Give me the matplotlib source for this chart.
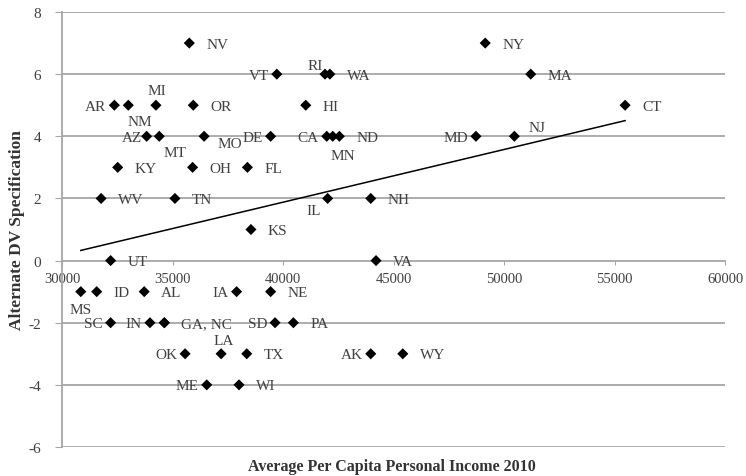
import numpy as np
import matplotlib
matplotlib.use("Agg")
import matplotlib.pyplot as plt


# Data
states = ["NV", "NY",
          "VT", "RI", "WA", "MA",
          "AR", "NM", "MI", "OR", "HI", "CT",
          "AZ", "MT", "MO", "DE", "CA", "MN", "ND", "MD", "NJ",
          "KY", "OH", "FL",
          "WV", "TN", "IL", "NH",
          "KS",
          "UT", "VA",
          "MS", "ID", "AL", "IA", "NE",
          "SC", "IN", "GA", "NC", "SD", "PA",
          "OK", "LA", "TX", "AK", "WY",
          "ME", "WI"]
income = [35760, 49150,
          39720, 41900, 42120, 51210,
          32370, 33000, 34250, 35940, 41030, 55480,
          33830, 34400, 36430, 39440, 41980, 42250, 42550, 48730, 50470,
          32520, 35910, 38390,
          31770, 35110, 42020, 43970,
          38550,
          32200, 44210,
          30850, 31570, 33720, 37900, 39440,
          32200, 33980, 34630, 34630, 39640, 40470,
          35570, 37200, 38360, 43970, 45420,
          36550, 38010]
dv = [7, 7,
      6, 6, 6, 6,
      5, 5, 5, 5, 5, 5,
      4, 4, 4, 4, 4, 4, 4, 4, 4,
      3, 3, 3,
      2, 2, 2, 2,
      1,
      0, 0,
      -1, -1, -1, -1, -1,
      -2, -2, -2, -2, -2, -2,
      -3, -3, -3, -3, -3,
      -4, -4]

x_ticks = [30000, 35000, 40000, 45000, 50000, 55000, 60000]
y_ticks = [-6, -4, -2, 0, 2, 4, 6, 8]

# label placement: (dx px, dy px, ha)
place = {"r": (17, 0, "left"), "l": (-8, 0, "right")}
left_labels = ["VT", "AR", "AZ", "DE", "CA", "MD", "SC", "IN", "SD",
               "IA", "OK", "AK", "ME"]
special = {
    "RI": (-10, 10, "center"),
    "NM": (12, -15, "center"),
    "MT": (16, -15, "center"),
    "MN": (10, -18, "center"),
    "IL": (-14, -11, "center"),
    "MO": (13, -6, "left"),
    "NJ": (23, 10, "center"),
    "LA": (3, 14, "center"),
    "MI": (1, 16, "center"),
    "MS": (0, -17, "center"),
    "AZ": (-5, 0, "right"),
}
label_text = {"GA": "GA, NC", "NC": ""}

plt.rcParams["font.family"] = ["Liberation Serif", "DejaVu Serif"]
plt.rcParams["axes.unicode_minus"] = False

fig = plt.figure(figsize=(7.46, 4.77), dpi=100)
ax = fig.add_axes([62 / 746, 1 - 448 / 477, (725 - 62) / 746, (448 - 13) / 477])

grid_c = "#a6a6a6"
text_c = "#404040"

ax.scatter(income, dv, marker="D", s=32, color="black", zorder=3,
           edgecolors="none")

# linear trend line over the data range
slope, icpt = np.polyfit(income, dv, 1)
xs = np.array([min(income), max(income)])
ax.plot(xs, slope * xs + icpt, color="black", lw=1.1, zorder=2)

for st, x, y in zip(states, income, dv):
    txt = label_text.get(st, st)
    if not txt:
        continue
    if st in special:
        dx, dy, ha = special[st]
    elif st in left_labels:
        dx, dy, ha = place["l"]
    else:
        dx, dy, ha = place["r"]
    ax.annotate(txt, (x, y), xytext=(dx, dy - 1), textcoords="offset pixels",
                ha=ha, va="center", fontsize=11, color=text_c, zorder=4)

ax.set_xlim(30000, 60000)
ax.set_ylim(-6, 8)
ax.set_xticks(x_ticks)
ax.set_yticks(y_ticks)

for y in y_ticks:
    if y != 0:
        ax.axhline(y, color=grid_c, lw=1.3, zorder=1)

for side in ["top", "right"]:
    ax.spines[side].set_visible(False)
ax.spines["bottom"].set_position(("data", 0))
ax.spines["bottom"].set_color(grid_c)
ax.spines["bottom"].set_linewidth(1.3)
ax.spines["left"].set_color(grid_c)
ax.spines["left"].set_linewidth(1.3)

ax.tick_params(axis="x", direction="out", length=3, color=grid_c,
               labelsize=10.5, labelcolor=text_c, pad=5)
ax.tick_params(axis="y", direction="out", length=5, color=grid_c,
               labelsize=11, labelcolor=text_c, pad=10)

ax.set_ylabel("Alternate DV Specification", fontsize=12.5, fontweight="bold",
              color="#333333")
ax.yaxis.set_label_coords(-0.056, 0.5)
fig.text(392 / 746, 1 - 467 / 477,
         "Average Per Capita Personal Income 2010", ha="center", va="center",
         fontsize=11.5, fontweight="bold", color="#333333")

fig.savefig("out.png", dpi=100)
